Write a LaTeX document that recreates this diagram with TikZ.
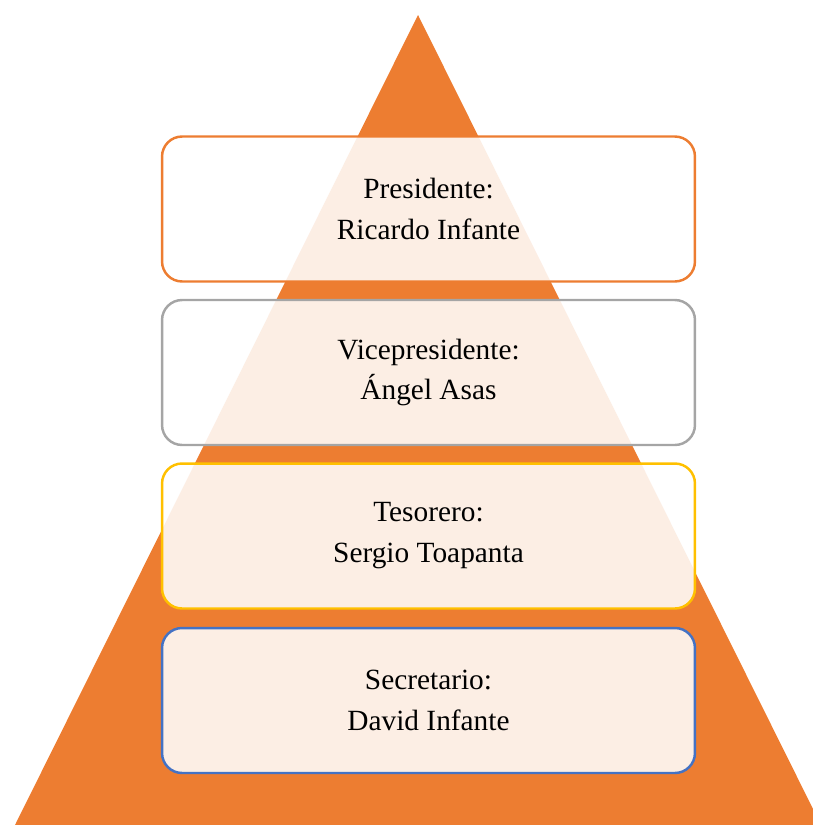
\documentclass[tikz,border=0pt]{standalone}
\usepackage{fontspec}
\setmainfont{Liberation Serif}

\definecolor{naranja}{HTML}{ED7D31}
\definecolor{gris}{HTML}{A5A5A5}
\definecolor{amarillo}{HTML}{FFC000}
\definecolor{azul}{HTML}{4472C4}

\tikzset{
  cargo/.style={draw=#1, line width=1.4pt, rounded corners=0.4cm,
    fill=white, fill opacity=0.87, text opacity=1,
    minimum width=10.66cm, minimum height=2.9cm,
    align=center, font=\fontsize{16.7}{23.3}\selectfont}
}

\begin{document}
\begin{tikzpicture}[x=0.02cm, y=-0.02cm]

    % dimensiones del lienzo
    \def\W{813}
    \def\H{825}

    % centro horizontal de los cuadros
    \def\cx{428.5}

    \useasboundingbox (0,0) rectangle (\W,\H);
    \clip (0,0) rectangle (\W,\H);

    % pirámide
    \fill[naranja] (418,15) -- (15,825) -- (821,825) -- cycle;

    % cargos
    \node[cargo=naranja]  (pres) at (\cx,209)   {Presidente:\\Ricardo Infante};
    \node[cargo=gris]     (vice) at (\cx,372.5) {Vicepresidente:\\Ángel Asas};
    \node[cargo=amarillo] (tes)  at (\cx,536)   {Tesorero:\\Sergio Toapanta};
    \node[cargo=azul]     (sec)  at (\cx,700.5) {Secretario:\\David Infante};

\end{tikzpicture}
\end{document}
